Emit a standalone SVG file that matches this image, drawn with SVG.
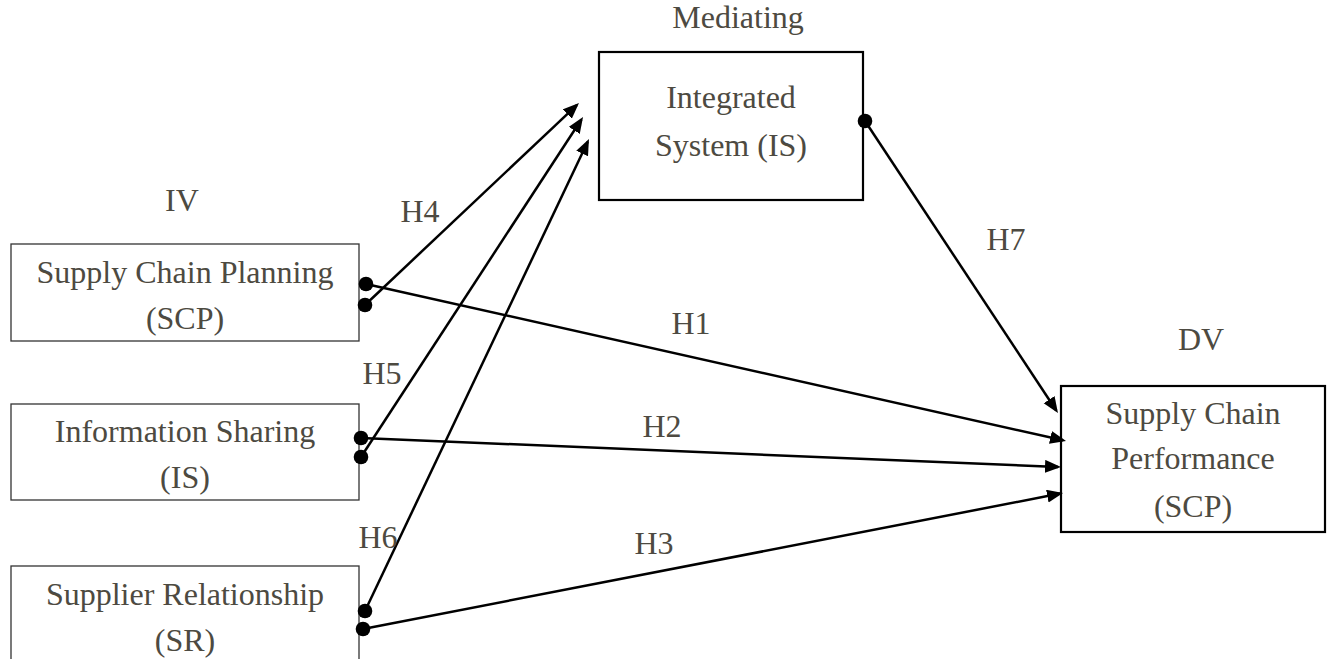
<svg xmlns="http://www.w3.org/2000/svg" width="1327" height="659" viewBox="0 0 1327 659">
<style>
text{font-family:"Liberation Serif","Times New Roman",serif;font-size:32px;fill:#4d4a41;text-anchor:middle}
.box{fill:#fff;stroke:#333;stroke-width:1.3}
.box2{fill:#fff;stroke:#000;stroke-width:2.2}
.ln{stroke:#000;stroke-width:2.5;fill:none;marker-end:url(#ah)}
.dot{fill:#000}
</style>
<defs>
<marker id="ah" markerUnits="userSpaceOnUse" markerWidth="18" markerHeight="14" refX="13" refY="6.5" orient="auto">
<path d="M0,0 L16,6.5 L0,13 z" fill="#000"/>
</marker>
</defs>
<rect width="1327" height="659" fill="#fff"/>
<text x="182" y="211">IV</text>
<text x="738" y="28">Mediating</text>
<text x="1201" y="350">DV</text>
<g id="scp">
<rect class="box" x="11" y="244" width="348" height="97"/>
<text x="185" y="283">Supply Chain Planning</text>
<text x="185" y="329">(SCP)</text>
</g>
<g id="is">
<rect class="box" x="11" y="404" width="348" height="96"/>
<text x="185" y="442">Information Sharing</text>
<text x="185" y="488">(IS)</text>
</g>
<g id="sr">
<rect class="box" x="11" y="566" width="348" height="110"/>
<text x="185" y="605">Supplier Relationship</text>
<text x="185" y="651">(SR)</text>
</g>
<g id="integrated">
<rect class="box2" x="599" y="52" width="264" height="148"/>
<text x="731" y="108">Integrated</text>
<text x="731" y="156">System (IS)</text>
</g>
<g id="performance">
<rect class="box2" x="1061" y="386" width="264" height="146"/>
<text x="1193" y="424">Supply Chain</text>
<text x="1193" y="469">Performance</text>
<text x="1193" y="517">(SCP)</text>
</g>
<g id="connectors">
<line class="ln" x1="365" y1="305" x2="576.8" y2="105.1"/>
<line class="ln" x1="361" y1="457" x2="581.4" y2="119.5"/>
<line class="ln" x1="365" y1="611" x2="587.7" y2="141.7"/>
<line class="ln" x1="366" y1="284" x2="1063.1" y2="440.3"/>
<line class="ln" x1="361" y1="438" x2="1058" y2="466.9"/>
<line class="ln" x1="363" y1="629" x2="1060.1" y2="493.6"/>
<line class="ln" x1="865" y1="121" x2="1056.3" y2="410.5"/>
<circle class="dot" cx="366" cy="284" r="7.3"/>
<circle class="dot" cx="365" cy="305" r="7.3"/>
<circle class="dot" cx="361" cy="438" r="7.3"/>
<circle class="dot" cx="361" cy="457" r="7.3"/>
<circle class="dot" cx="365" cy="611" r="7.3"/>
<circle class="dot" cx="363" cy="629" r="7.3"/>
<circle class="dot" cx="865" cy="121" r="7.3"/>
</g>
<g id="labels">
<text x="420" y="222">H4</text>
<text x="382" y="384">H5</text>
<text x="378" y="548">H6</text>
<text x="691" y="334">H1</text>
<text x="662" y="437">H2</text>
<text x="654" y="554">H3</text>
<text x="1006" y="250">H7</text>
</g>
</svg>
